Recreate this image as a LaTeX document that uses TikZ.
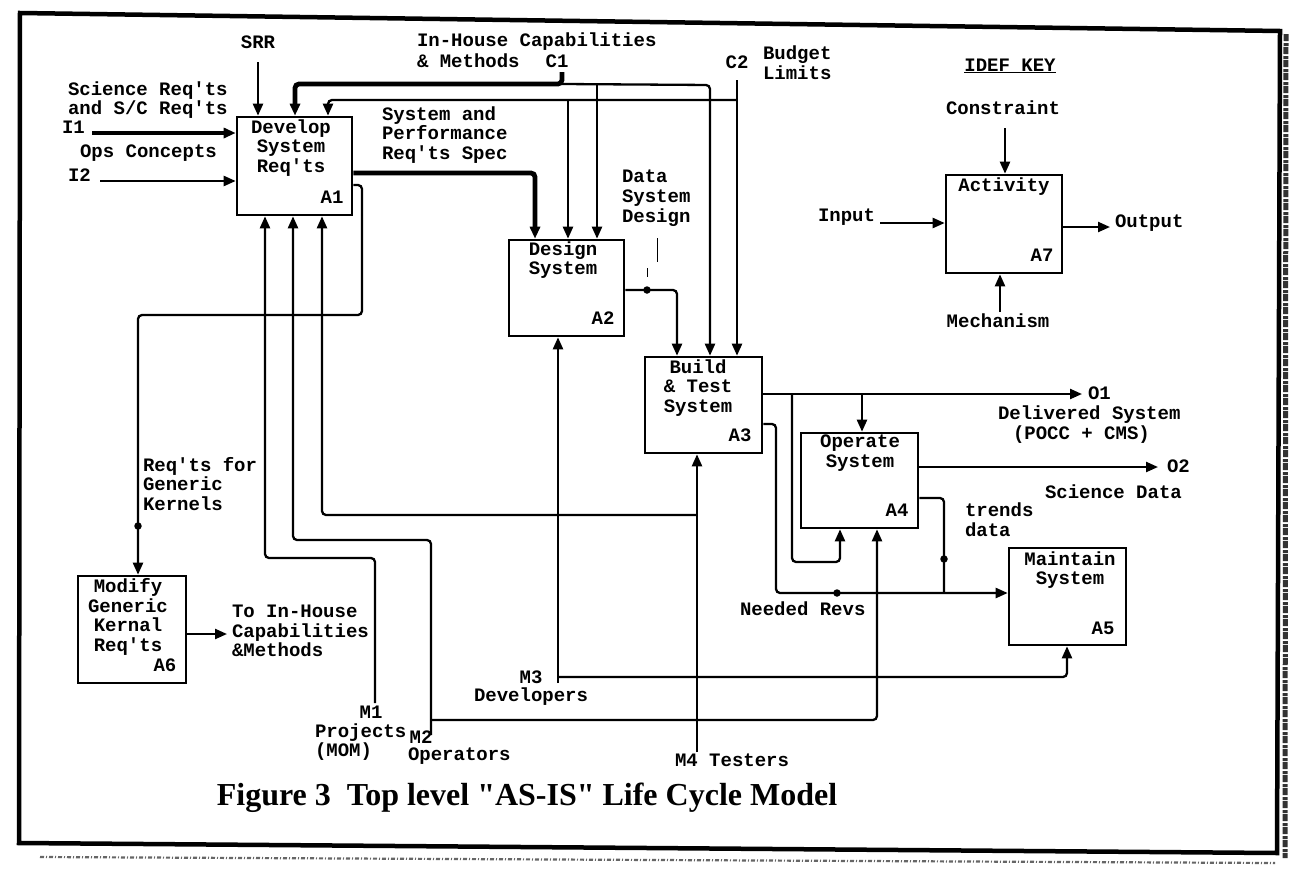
\documentclass[tikz,border=0pt]{standalone}
\usepackage{fontspec}
\setmainfont{Liberation Serif}[Ligatures=TeXOff]
\newfontfamily\courf{Liberation Mono}
\usetikzlibrary{arrows.meta}
\begin{document}
\begin{tikzpicture}[x=1pt,y=-1pt,
  lbl/.style={font=\courf\bfseries\fontsize{19}{19.7}\selectfont, inner sep=0pt, outer sep=0pt},
  boxst/.style={draw, line width=2.6pt, inner sep=0pt},
  conn/.style={draw, line width=2.3pt, rounded corners=4pt},
  thickconn/.style={draw, line width=4.8pt, rounded corners=4pt},
  arrowend/.style={-{Triangle[length=12pt,width=10pt]}},
  dotst/.style={circle, fill, inner sep=0pt, minimum size=7.5pt},
  squig/.style={draw, line width=0.9pt},
  scanband/.style={draw=black!80, dash pattern=on 7pt off 2pt on 3pt off 1pt}
]
\useasboundingbox (0,0) rectangle (1296,873);
\fill[white] (0,0) rectangle (1296,873);
% frame
\draw[line width=4.5pt, line join=miter] (20,13) -- (1280,31) -- (1277,853) -- (19,843) -- cycle;
% scan noise along the right and bottom edges
\draw[scanband, line width=5pt] (1286,34) -- (1285,858);
\draw[scanband, line width=2.2pt, draw=black!60, dash pattern=on 4pt off 2pt on 1pt off 2pt] (40,857) -- (1275,863);

% ---------- activity boxes ----------
\node[boxst, minimum width=115pt, minimum height=98pt] (a1) at (294.5,166) {};
\node[boxst, minimum width=115pt, minimum height=96pt] (a2) at (566.5,288) {};
\node[boxst, minimum width=117pt, minimum height=96pt] (a3) at (703.5,405) {};
\node[boxst, minimum width=117pt, minimum height=95pt] (a4) at (859.5,480.5) {};
\node[boxst, minimum width=117pt, minimum height=97pt] (a5) at (1067.5,596.5) {};
\node[boxst, minimum width=108pt, minimum height=107pt] (a6) at (132,629.5) {};
\node[boxst, minimum width=116pt, minimum height=98pt] (a7) at (1004,224) {};

% box texts
\node[lbl, align=center] (a1t) at (291,148) {Develop\\System\\Req'ts};
\node[lbl] (a1n) at (332,197) {A1};
\node[lbl, align=center] (a2t) at (563,260) {Design\\System};
\node[lbl] (a2n) at (603,318) {A2};
\node[lbl, align=center] (a3t) at (698,388) {Build\\\& Test\\System};
\node[lbl] (a3n) at (740,435) {A3};
\node[lbl, align=center] (a4t) at (860,453) {Operate\\System};
\node[lbl] (a4n) at (897,510) {A4};
\node[lbl, align=center] (a5t) at (1070,570) {Maintain\\System};
\node[lbl] (a5n) at (1103,628) {A5};
\node[lbl, align=center] (a6t) at (128,617) {Modify\\Generic\\Kernal\\Req'ts};
\node[lbl] (a6n) at (165,665) {A6};
\node[lbl] (a7t) at (1004,187) {Activity};
\node[lbl] (a7n) at (1042,255) {A7};

% ---------- labels ----------
\node[lbl] (srrl) at (258,42) {SRR};
\node[lbl, anchor=west] (ihc) at (417,42) {In-House Capabilities};
\node[lbl, anchor=west] (ihm) at (417,61) {\& Methods};
\node[lbl] (c1l) at (557,61) {C1};
\node[lbl] (c2l) at (737,62) {C2};
\node[lbl, anchor=west, align=left] (budl) at (763,63) {Budget\\Limits};
\node[lbl] (idef) at (1010,66) {\underline{IDEF KEY}};
\node[lbl, anchor=west, align=left] (scil) at (68,100) {Science Req'ts\\and S/C Req'ts};
\node[lbl, anchor=west] (i1l) at (62,127) {I1};
\node[lbl, anchor=west] (opsl) at (80,153) {Ops Concepts};
\node[lbl, anchor=west] (i2l) at (68,175) {I2};
\node[lbl, anchor=west, align=left] (spsl) at (382,135) {System and\\Performance\\Req'ts Spec};
\node[lbl, anchor=west, align=left] (dsdl) at (622,198) {Data\\System\\Design};
\node[lbl, anchor=west, align=left] (rgkl) at (143,484) {Req'ts for\\Generic\\Kernels};
\node[lbl, anchor=west, align=left] (tihl) at (232,631) {To In-House\\Capabilities\\\&Methods};
\node[lbl] (m1l) at (371,712) {M1};
\node[lbl, anchor=west, align=left] (prjl) at (315,742) {Projects\\(MOM)};
\node[lbl] (m2l) at (421,737) {M2};
\node[lbl, anchor=west] (opl) at (408,756) {Operators};
\node[lbl] (m3l) at (531,677) {M3};
\node[lbl, anchor=west] (devl) at (474,697) {Developers};
\node[lbl, anchor=west] (m4l) at (675,760) {M4 Testers};
\node[lbl, anchor=west] (nrl) at (740,609) {Needed Revs};
\node[lbl, anchor=west] (o1l) at (1088,393) {O1};
\node[lbl, anchor=west] (del1) at (998,415) {Delivered System};
\node[lbl, anchor=west] (del2) at (1013,435) {(POCC + CMS)};
\node[lbl, anchor=west] (o2l) at (1167,466) {O2};
\node[lbl, anchor=west] (scdl) at (1045,492) {Science Data};
\node[lbl, anchor=west, align=left] (trdl) at (965,520) {trends\\data};
\node[lbl] (kcl) at (1003,108) {Constraint};
\node[lbl, anchor=west] (kil) at (818,217) {Input};
\node[lbl, anchor=west] (kol) at (1115,223) {Output};
\node[lbl] (kml) at (998,321) {Mechanism};
\node[anchor=base, inner sep=0pt, font=\bfseries\fontsize{32}{36}\selectfont] (title) at (527,805) {Figure 3~~Top level "AS-IS" Life Cycle Model};

% ---------- connectors ----------
% SRR
\coordinate (srr) at (258,62);
\draw[conn,arrowend] (srr) -- (srr |- a1.north);
% inputs
\coordinate (i1) at (92,133);
\draw[thickconn,arrowend] (i1) -- (i1 -| a1.west);
\coordinate (i2) at (100,181);
\draw[conn,arrowend] (i2) -- (i2 -| a1.west);
% C1
\coordinate (c1) at (562,72);
\coordinate (c1j) at (562,84);
\draw[thickconn,arrowend] (c1) -- (c1j) -- (295,84) -- (295,0 |- a1.north);
\draw[conn,arrowend] (c1j) -- (710,85) -- (710,0 |- a3.north);
\draw[conn,arrowend] (597,85) -- (597,0 |- a2.north);
% C2
\coordinate (c2) at (737,80);
\draw[conn,arrowend] (c2) -- (c2 |- a3.north);
\draw[conn,arrowend] (737,100) -- (328,100) -- (328,0 |- a1.north);
\draw[conn,arrowend] (568,100) -- (568,0 |- a2.north);
% A1 -> A2
\draw[thickconn,arrowend] (a1.east |- 0,173) -- (535,173) -- (535,0 |- a2.north);
% A1 -> A6
\draw[conn,arrowend] (a1.east |- 0,185) -- (362,185) -- (362,315) -- (138,315) -- (138,0 |- a6.north);
\node[dotst] (d1) at (138,526) {};
% mechanisms
\coordinate (m1) at (375,703);
\draw[conn,arrowend] (m1) -- (375,558) -- (265,558) -- (265,0 |- a1.south);
\coordinate (m2) at (431,735);
\draw[conn,arrowend] (m2) -- (431,540) -- (293,540) -- (293,0 |- a1.south);
\draw[conn,arrowend] (431,720) -- (877,720) -- (877,0 |- a4.south);
\coordinate (m3) at (558,683);
\draw[conn,arrowend] (m3) -- (m3 |- a2.south);
\draw[conn,arrowend] (558,677) -- (1067,677) -- (1067,0 |- a5.south);
\coordinate (m4) at (697,752);
\draw[conn,arrowend] (m4) -- (m4 |- a3.south);
\draw[conn,arrowend] (697,515) -- (322,515) -- (322,0 |- a1.south);
% A2 -> A3
\draw[conn,arrowend] (a2.east |- 0,290) -- (677,290) -- (677,0 |- a3.north);
\node[dotst] (d2) at (647,290) {};
\draw[squig] (657,238) -- (657,262);
\draw[squig] (647,268) -- (647,277);
% A3 outputs
\coordinate (o1) at (1082,394);
\draw[conn,arrowend] (a3.east |- o1) -- (o1);
\draw[conn,arrowend] (792,394) -- (792,562) -- (840,562) -- (840,0 |- a4.south);
\draw[conn,arrowend] (862,394) -- (862,0 |- a4.north);
\draw[conn,arrowend] (a3.east |- 0,424) -- (776,424) -- (776,593) -- (a5.west |- 0,593);
\node[dotst] (d3) at (837,593) {};
% A4 outputs
\coordinate (o2) at (1158,467);
\draw[conn,arrowend] (a4.east |- o2) -- (o2);
\draw[conn] (a4.east |- 0,498) -- (944,498) -- (944,593);
\node[dotst] (d4) at (944,559) {};
% A6 output
\coordinate (a6o) at (227,634);
\draw[conn,arrowend] (a6.east |- a6o) -- (a6o);
% legend
\coordinate (kc) at (1005,128);
\draw[conn,arrowend] (kc) -- (kc |- a7.north);
\coordinate (ki) at (880,223);
\draw[conn,arrowend] (ki) -- (ki -| a7.west);
\coordinate (ko) at (1110,227);
\draw[conn,arrowend] (a7.east |- ko) -- (ko);
\coordinate (km) at (1000,312);
\draw[conn,arrowend] (km) -- (km |- a7.south);
\end{tikzpicture}
\end{document}
